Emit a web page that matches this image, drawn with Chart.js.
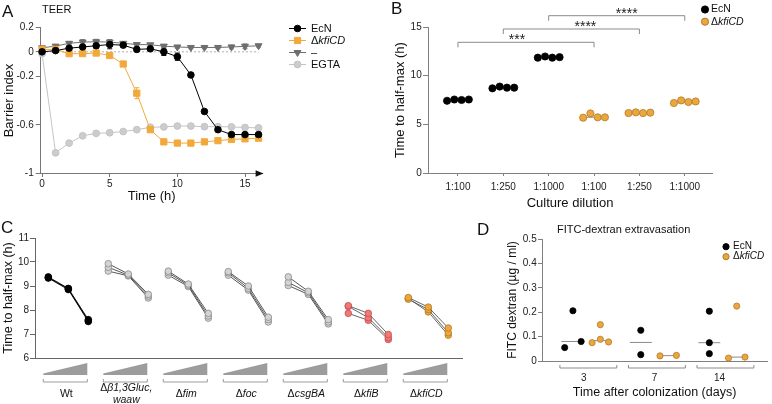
<!DOCTYPE html>
<html>
<head>
<meta charset="utf-8">
<script src="https://cdn.jsdelivr.net/npm/chart.js@4.4.1/dist/chart.umd.min.js"></script>
<style>
  body { margin: 0; background: #fff; }
  #fig { position: relative; width: 772px; height: 404px; overflow: hidden; font-family: 'Liberation Sans', Arial, sans-serif; }
  canvas { position: absolute; }
  .lbl { position: absolute; color: #111; white-space: nowrap; line-height: 1; }
  .letter { font-size: 17px; }
  .sub { font-size: 11px; }
</style>
</head>
<body>
<div id="fig">
  <canvas id="chartA" width="390" height="212" style="left:0;top:0"></canvas>
  <canvas id="chartB" width="382" height="212" style="left:390px;top:0"></canvas>
  <canvas id="chartC" width="470" height="199" style="left:0;top:205px"></canvas>
  <canvas id="chartD" width="282" height="199" style="left:490px;top:205px"></canvas>
  <div class="lbl letter" style="left:2px;top:3px">A</div>
  <div class="lbl sub" style="left:42px;top:4px">TEER</div>
  <div class="lbl letter" style="left:391px;top:0px">B</div>
  <div class="lbl letter" style="left:1px;top:219px">C</div>
  <div class="lbl letter" style="left:477px;top:221px">D</div>
  <div class="lbl sub" style="left:557px;top:224px">FITC-dextran extravasation</div>
</div>
<script>
// ---- A: TEER barrier index over time
const timeH = [0, 1, 2, 3, 4, 5, 6, 7, 8, 9, 10, 11, 12, 13, 14, 15, 16];
const ecnBarrier = [0, 0.01, 0.03, 0.04, 0.05, 0.06, 0.055, 0.02, 0.025, 0, -0.04, -0.19, -0.49, -0.64, -0.68, -0.68, -0.68];
const ecnBarrierErr = [0.01, 0.01, 0.01, 0.015, 0.02, 0.035, 0.01, 0.01, 0.01, 0.03, 0.03, 0.01, 0.01, 0.01, 0.01, 0.01, 0.01];
const kfiBarrier = [0.02, 0.02, -0.015, -0.015, -0.01, -0.03, -0.1, -0.34, -0.64, -0.74, -0.75, -0.75, -0.74, -0.73, -0.72, -0.715, -0.71];
const kfiBarrierErr = [0.01, 0.01, 0.01, 0.01, 0.01, 0.01, 0.015, 0.045, 0.015, 0.01, 0.01, 0.01, 0.01, 0.01, 0.01, 0.01, 0.01];
const ctrlBarrier = [0.033, 0.047, 0.07, 0.08, 0.083, 0.08, 0.07, 0.06, 0.058, 0.047, 0.04, 0.036, 0.036, 0.036, 0.04, 0.045, 0.05];
const ctrlBarrierErr = [0.01, 0.01, 0.015, 0.02, 0.02, 0.02, 0.01, 0.01, 0.01, 0.01, 0.01, 0.01, 0.01, 0.01, 0.015, 0.02, 0.01];
const egtaBarrier = [-0.015, -0.83, -0.75, -0.69, -0.67, -0.665, -0.655, -0.64, -0.62, -0.617, -0.61, -0.61, -0.615, -0.615, -0.617, -0.622, -0.625];
const egtaBarrierErr = [0.01, 0.01, 0.01, 0.01, 0.01, 0.01, 0.01, 0.01, 0.01, 0.01, 0.015, 0.015, 0.015, 0.015, 0.015, 0.015, 0.015];
const barrierTicks = [0.2, 0, -0.2, -0.6, -1];
const timeTicks = [0, 5, 10, 15];

// ---- B: time to half-max by culture dilution
const dilutions = ['1:100', '1:250', '1:1000', '1:100', '1:250', '1:1000'];
const ecnHalfMax = [[7.42, 7.55, 7.5, 7.55], [8.7, 8.88, 8.77, 8.77], [11.85, 11.97, 11.85, 11.9]];
const kfiHalfMax = [[5.68, 6.12, 5.72, 5.72], [6.16, 6.23, 6.16, 6.2], [7.19, 7.46, 7.29, 7.35]];
const halfMaxTicks = [0, 5, 10, 15];
const sigBrackets = [
  { from: 1, to: 4, label: '***', dx: -0.2 },
  { from: 2, to: 5, label: '****', dx: 0.31 },
  { from: 3, to: 6, label: '****', dx: 0.22 }
];

// ---- C: time to half-max per strain, three dilutions, replicates connected
const strains = [['Wt'], ['\u0394\u03b21,3Gluc,', 'waaw'], ['\u0394fim'], ['\u0394foc'], ['\u0394csgBA'], ['\u0394kfiB'], ['\u0394kfiCD']];
const strainHalfMax = [
  [[9.38, 8.9, 7.6], [9.33, 8.85, 7.52], [9.35, 8.88, 7.55]],
  [[9.93, 9.5, 8.65], [9.78, 9.45, 8.58], [9.62, 9.42, 8.5]],
  [[9.62, 9.08, 7.86], [9.55, 9.03, 7.75], [9.45, 8.98, 7.66]],
  [[9.6, 9.0, 7.7], [9.55, 8.9, 7.6], [9.45, 8.83, 7.5]],
  [[9.38, 8.78, 7.6], [9.15, 8.72, 7.5], [9.02, 8.65, 7.42]],
  [[8.18, 7.86, 6.98], [8.15, 7.68, 6.85], [7.86, 7.57, 6.77]],
  [[8.52, 8.12, 7.25], [8.45, 8.02, 7.05], [8.48, 7.92, 6.95]]
];
const strainTicks = [6, 7, 8, 9, 10, 11];

// ---- D: FITC-dextran after colonization
const days = ['3', '7', '14'];
const ecnFitc = [[0.055, 0.206, 0.08], [0.126, 0.026], [0.204, 0.075, 0.03]];
const kfiFitc = [[0.075, 0.149, 0.089, 0.078], [0.021, 0.023], [0.225, 0.012, 0.016]];
const fitcTicks = [0, 0.1, 0.2, 0.3, 0.4, 0.5];

// layout constants (jitter, not data)
const jitterB = [-0.24, -0.08, 0.08, 0.24];
const ecnJitterD = [[-0.34, -0.22, -0.1], [-0.23, -0.23], [-0.23, -0.23, -0.23]];
const kfiJitterD = [[0.06, 0.18, 0.18, 0.3], [0.05, 0.29], [0.17, 0.05, 0.29]];

const FONT = "'Liberation Sans', Arial, sans-serif";
const ORANGE = '#EBA73E', ORANGE_EDGE = '#B27B2A';
Chart.defaults.font.family = FONT;
Chart.defaults.font.size = 10;
Chart.defaults.color = '#222';
Chart.defaults.animation = false;
Chart.defaults.responsive = false;
Chart.defaults.plugins.legend.display = false;
Chart.defaults.plugins.tooltip.enabled = false;

const pts = (xs, ys) => xs.map((x, i) => ({ x: x, y: ys[i] }));
function median(a) {
  const s = a.slice().sort((p, q) => p - q), m = s.length >> 1;
  return s.length % 2 ? s[m] : (s[m - 1] + s[m]) / 2;
}

function makeScale(o) {
  return {
    type: 'linear',
    position: o.position,
    min: o.min,
    max: o.max,
    afterFit: s => { if (s.isHorizontal()) s.height = o.size; else s.width = o.size; },
    afterBuildTicks: o.tickValues ? s => { s.ticks = o.tickValues.map(v => ({ value: v })); } : undefined,
    grid: { display: !!o.tickLen, drawOnChartArea: false, drawTicks: !!o.tickLen, tickLength: o.tickLen || 0, color: o.color },
    border: { display: true, color: o.color, width: 1 },
    ticks: { display: o.showTicks !== false, padding: o.tickPad || 0, font: { size: 10 }, color: '#222', autoSkip: false, maxRotation: 0, callback: o.format },
    title: o.title ? { display: true, text: o.title, font: { size: o.titleSize || 13 }, color: '#111', padding: o.titlePad } : { display: false }
  };
}

// text with italic gene names, "Δ" kept upright
function textParts(text, italic) {
  if (text.charAt(0) === '\u0394') return [['\u0394', false], [text.slice(1), italic]];
  return [[text, italic]];
}
const isMutant = name => name.charAt(0) === '\u0394';
function drawRich(ctx, parts, x, y, size, align) {
  const fontOf = it => (it ? 'italic ' : '') + size + 'px ' + FONT;
  let total = 0;
  parts.forEach(p => { ctx.font = fontOf(p[1]); total += ctx.measureText(p[0]).width; });
  let cx = align === 'center' ? x - total / 2 : x;
  ctx.textAlign = 'left';
  ctx.textBaseline = 'middle';
  ctx.fillStyle = '#111';
  parts.forEach(p => { ctx.font = fontOf(p[1]); ctx.fillText(p[0], cx, y); cx += ctx.measureText(p[0]).width; });
}

const errorBars = {
  id: 'errorBars',
  beforeDatasetsDraw(chart) {
    const { ctx, scales: { x, y } } = chart;
    chart.data.datasets.forEach(ds => {
      if (!ds.errors) return;
      ctx.save();
      ctx.strokeStyle = ds.borderColor;
      ctx.lineWidth = 1;
      ds.data.forEach((p, i) => {
        const e = ds.errors[i];
        if (!e) return;
        const px = x.getPixelForValue(p.x), y1 = y.getPixelForValue(p.y + e), y2 = y.getPixelForValue(p.y - e);
        ctx.beginPath();
        ctx.moveTo(px, y1); ctx.lineTo(px, y2);
        ctx.moveTo(px - 2.5, y1); ctx.lineTo(px + 2.5, y1);
        ctx.moveTo(px - 2.5, y2); ctx.lineTo(px + 2.5, y2);
        ctx.stroke();
      });
      ctx.restore();
    });
  }
};

// ---------- Chart A ----------
const extrasA = {
  id: 'extrasA',
  beforeDatasetsDraw(chart) {
    const { ctx, scales: { x, y } } = chart;
    ctx.save();
    ctx.strokeStyle = '#999';
    ctx.lineWidth = 0.8;
    ctx.setLineDash([2, 2]);
    ctx.beginPath();
    ctx.moveTo(x.getPixelForValue(0), y.getPixelForValue(0));
    ctx.lineTo(x.getPixelForValue(16), y.getPixelForValue(0));
    ctx.stroke();
    ctx.restore();
  },
  afterDraw(chart) {
    const { ctx, chartArea: a } = chart;
    ctx.save();
    ctx.fillStyle = '#111';
    ctx.beginPath();
    ctx.moveTo(a.right + 1, a.bottom);
    ctx.lineTo(a.right - 7, a.bottom - 3.2);
    ctx.lineTo(a.right - 7, a.bottom + 3.2);
    ctx.closePath();
    ctx.fill();
    // legend: short line with marker, then label
    chart.data.datasets.forEach((ds, i) => {
      const ly = 28.5 + i * 12;
      ctx.strokeStyle = ds.borderColor;
      ctx.fillStyle = ds.backgroundColor;
      ctx.lineWidth = 1;
      ctx.beginPath();
      ctx.moveTo(289, ly); ctx.lineTo(306, ly);
      ctx.stroke();
      Chart.helpers.drawPoint(ctx, { pointStyle: ds.pointStyle, radius: ds.pointRadius, rotation: ds.pointRotation || 0, borderWidth: 1 }, 297.5, ly);
      drawRich(ctx, textParts(ds.label, isMutant(ds.label)), 311, ly, 11, 'left');
    });
    ctx.restore();
  }
};

new Chart(document.getElementById('chartA'), {
  type: 'line',
  data: {
    datasets: [
      { label: 'EcN', data: pts(timeH, ecnBarrier), errors: ecnBarrierErr, borderColor: '#000', backgroundColor: '#000', pointStyle: 'circle', pointRadius: 3.3, pointBorderWidth: 1, borderWidth: 1, clip: false },
      { label: '\u0394kfiCD', data: pts(timeH, kfiBarrier), errors: kfiBarrierErr, borderColor: '#F2A93B', backgroundColor: '#F2A93B', pointStyle: 'rect', pointRadius: 4.4, pointBorderWidth: 1, borderWidth: 1, clip: false },
      { label: '\u2013', data: pts(timeH, ctrlBarrier), errors: ctrlBarrierErr, borderColor: '#6E6E6E', backgroundColor: '#6E6E6E', pointStyle: 'triangle', pointRotation: 180, pointRadius: 4, pointBorderWidth: 1, borderWidth: 1, clip: false },
      { label: 'EGTA', data: pts(timeH, egtaBarrier), errors: egtaBarrierErr, borderColor: '#C4C4C4', backgroundColor: '#CCCCCC', pointStyle: 'circle', pointRadius: 3.4, pointBorderWidth: 1, borderWidth: 1, clip: false }
    ]
  },
  options: {
    layout: { padding: { left: 0, top: 27.5, right: 127.4, bottom: 0 } },
    scales: {
      x: makeScale({ position: 'bottom', min: -0.1, max: 16.3, size: 38.5, tickValues: timeTicks, tickLen: 3.5, tickPad: 1.5, color: '#777', title: 'Time (h)', titlePad: { top: 0, bottom: 8.2 } }),
      y: makeScale({ position: 'left', min: -1, max: 0.2, size: 40.7, tickValues: barrierTicks, tickLen: 5, tickPad: 2, color: '#777', format: v => String(v), title: 'Barrier index', titlePad: { top: 1.2, bottom: 0 } })
    }
  },
  plugins: [errorBars, extrasA]
});

// ---------- Chart B ----------
const bDatasets = [];
[[ecnHalfMax, 1, '#000', '#000'], [kfiHalfMax, 4, ORANGE, ORANGE_EDGE]].forEach(([groups, start, fill, edge]) => {
  groups.forEach((vals, g) => {
    const c = start + g;
    bDatasets.push({ data: vals.map((v, j) => ({ x: c + jitterB[j], y: v })), showLine: false, pointRadius: 3.6, pointBackgroundColor: fill, pointBorderColor: edge, pointBorderWidth: 0.8, order: 1, clip: false });
    const m = median(vals);
    bDatasets.push({ data: [{ x: c - 0.3, y: m }, { x: c + 0.3, y: m }], borderColor: '#9A9A9A', borderWidth: 1, pointRadius: 0, order: 2, clip: false });
  });
});
const extrasB = {
  id: 'extrasB',
  afterDraw(chart) {
    const { ctx, scales: { x } } = chart;
    ctx.save();
    sigBrackets.forEach((b, i) => {
      const x0 = x.getPixelForValue(b.from), x1 = x.getPixelForValue(b.to), yy = 42.3 - 13.3 * i;
      ctx.strokeStyle = '#8A8A8A';
      ctx.lineWidth = 1;
      ctx.beginPath();
      ctx.moveTo(x0, yy + 5); ctx.lineTo(x0, yy); ctx.lineTo(x1, yy); ctx.lineTo(x1, yy + 5);
      ctx.stroke();
      ctx.fillStyle = '#222';
      ctx.font = '14px ' + FONT;
      ctx.textAlign = 'center';
      ctx.textBaseline = 'alphabetic';
      ctx.fillText(b.label, x.getPixelForValue((b.from + b.to) / 2 + b.dx), yy + 2);
    });
    // legend
    [['EcN', '#000', '#000'], ['\u0394kfiCD', ORANGE, ORANGE_EDGE]].forEach(([name, fill, edge], i) => {
      const ly = 9.5 + i * 12.2;
      ctx.fillStyle = fill;
      ctx.strokeStyle = edge;
      Chart.helpers.drawPoint(ctx, { pointStyle: 'circle', radius: 3.6, borderWidth: 0.8 }, 315, ly);
      drawRich(ctx, textParts(name, isMutant(name)), 321, ly, 10.5, 'left');
    });
    ctx.restore();
  }
};
new Chart(document.getElementById('chartB'), {
  type: 'line',
  data: { datasets: bDatasets },
  options: {
    layout: { padding: { left: 0, top: 27, right: 60, bottom: 0 } },
    scales: {
      x: makeScale({ position: 'bottom', min: 0.34, max: 6.6, size: 39, tickValues: [1, 2, 3, 4, 5, 6], tickLen: 3, tickPad: 5, color: '#808080', format: (v, i) => dilutions[i], title: 'Culture dilution', titlePad: { top: 0, bottom: 1.2 } }),
      y: makeScale({ position: 'left', min: 0, max: 15, size: 38, tickValues: halfMaxTicks, tickLen: 5, tickPad: 1.3, color: '#808080', format: v => String(v), title: 'Time to half-max (h)', titlePad: { top: 2.2, bottom: 0 } })
    }
  },
  plugins: [extrasB]
});

// ---------- Chart C ----------
const strainStyles = [
  { fill: '#000', edge: '#000', line: '#000' },
  { fill: '#D3D3D3', edge: '#8A8A8A', line: '#444' },
  { fill: '#D3D3D3', edge: '#8A8A8A', line: '#444' },
  { fill: '#D3D3D3', edge: '#8A8A8A', line: '#444' },
  { fill: '#D3D3D3', edge: '#8A8A8A', line: '#444' },
  { fill: '#F27878', edge: '#C24E4E', line: '#555' },
  { fill: ORANGE, edge: ORANGE_EDGE, line: '#555' }
];
const cDatasets = [];
strainHalfMax.forEach((reps, g) => {
  const st = strainStyles[g];
  reps.forEach(rep => {
    cDatasets.push({ data: rep.map((v, d) => ({ x: 3 * g + d, y: v })), borderColor: st.line, borderWidth: 0.9, pointBackgroundColor: st.fill, pointBorderColor: st.edge, pointBorderWidth: 0.8, pointRadius: 3.3, clip: false });
  });
});
const extrasC = {
  id: 'extrasC',
  afterDraw(chart) {
    const { ctx, scales: { x } } = chart;
    ctx.save();
    strains.forEach((lines, g) => {
      const x0 = x.getPixelForValue(3 * g - 0.25), x1 = x.getPixelForValue(3 * g + 1.95);
      ctx.fillStyle = '#9C9C9C';
      ctx.beginPath();
      ctx.moveTo(x0, 170); ctx.lineTo(x1, 170); ctx.lineTo(x1, 158); ctx.lineTo(x0, 168.5);
      ctx.closePath();
      ctx.fill();
      ctx.strokeStyle = '#9C9C9C';
      ctx.lineWidth = 1;
      ctx.beginPath();
      ctx.moveTo(x0, 174); ctx.lineTo(x0, 177); ctx.lineTo(x1, 177); ctx.lineTo(x1, 174);
      ctx.stroke();
      const cx = (x0 + x1) / 2 + 1;
      const italic = g > 0;
      if (lines.length === 1) drawRich(ctx, textParts(lines[0], italic), cx, 189, 10.5, 'center');
      else lines.forEach((t, k) => drawRich(ctx, textParts(t, italic), cx, 183 + 12 * k, 10.5, 'center'));
    });
    ctx.restore();
  }
};
new Chart(document.getElementById('chartC'), {
  type: 'line',
  data: { datasets: cDatasets },
  options: {
    layout: { padding: { left: 0, top: 33, right: 8, bottom: 0 } },
    scales: {
      x: makeScale({ position: 'bottom', min: -0.665, max: 20.685, size: 46, showTicks: false, color: '#666' }),
      y: makeScale({ position: 'left', min: 6, max: 11, size: 35, tickValues: strainTicks, tickLen: 5, tickPad: 1, color: '#666', format: v => String(v), title: 'Time to half-max (h)', titleSize: 12.5, titlePad: { top: 1, bottom: 0 } })
    }
  },
  plugins: [extrasC]
});

// ---------- Chart D ----------
const dDatasets = [];
[[ecnFitc, ecnJitterD, '#000', '#000', -0.39, -0.07], [kfiFitc, kfiJitterD, ORANGE, ORANGE_EDGE, 0.05, 0.3]].forEach(([groups, jit, fill, edge, m0, m1]) => {
  groups.forEach((vals, d) => {
    const c = d + 1, m = median(vals);
    dDatasets.push({ data: vals.map((v, j) => ({ x: c + jit[d][j], y: v })), showLine: false, pointRadius: 3.1, pointBackgroundColor: fill, pointBorderColor: edge, pointBorderWidth: 0.8, order: 1, clip: false });
    dDatasets.push({ data: [{ x: c + m0, y: m }, { x: c + m1, y: m }], borderColor: '#8C8C8C', borderWidth: 1, pointRadius: 0, order: 2, clip: false });
  });
});
const extrasD = {
  id: 'extrasD',
  afterDraw(chart) {
    const { ctx, scales: { x } } = chart;
    ctx.save();
    days.forEach((day, d) => {
      const x0 = x.getPixelForValue(d + 1 - 0.41), x1 = x.getPixelForValue(d + 1 + 0.42);
      ctx.strokeStyle = '#8C8C8C';
      ctx.lineWidth = 1;
      ctx.beginPath();
      ctx.moveTo(x0, 160); ctx.lineTo(x0, 163); ctx.lineTo(x1, 163); ctx.lineTo(x1, 160);
      ctx.stroke();
    });
    [['EcN', '#000', '#000'], ['\u0394kfiCD', ORANGE, ORANGE_EDGE]].forEach(([name, fill, edge], i) => {
      const ly = 41.7 + i * 10;
      ctx.fillStyle = fill;
      ctx.strokeStyle = edge;
      Chart.helpers.drawPoint(ctx, { pointStyle: 'circle', radius: 3.1, borderWidth: 0.8 }, 236, ly);
      drawRich(ctx, textParts(name, isMutant(name)), 243, ly, 10, 'left');
    });
    ctx.restore();
  }
};
new Chart(document.getElementById('chartD'), {
  type: 'line',
  data: { datasets: dDatasets },
  options: {
    layout: { padding: { left: 0, top: 34, right: 0, bottom: 0 } },
    scales: {
      x: makeScale({ position: 'bottom', min: 0.329, max: 3.614, size: 43, tickValues: [0.94, 1.97, 2.92], tickPad: 11, color: '#808080', format: (v, i) => days[i], title: 'Time after colonization (days)', titleSize: 12.5, titlePad: { top: 0, bottom: 3.5 } }),
      y: makeScale({ position: 'left', min: 0, max: 0.5, size: 52, tickValues: fitcTicks, tickLen: 4, tickPad: 1.3, color: '#808080', format: v => (v === 0 ? '0' : v.toFixed(1)), title: 'FITC dextran (\u00b5g / ml)', titleSize: 12, titlePad: { top: 15.8, bottom: 0 } })
    }
  },
  plugins: [extrasD]
});
</script>
</body>
</html>
